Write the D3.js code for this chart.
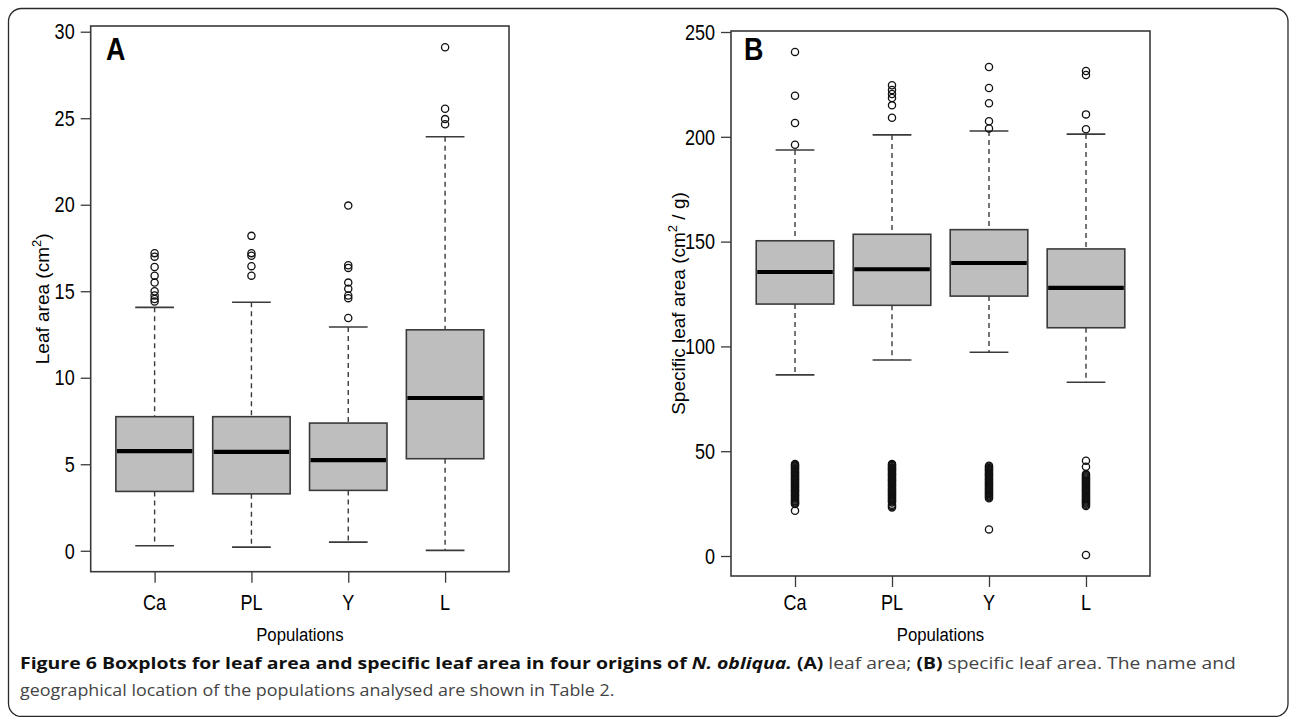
<!DOCTYPE html>
<html>
<head>
<meta charset="utf-8">
<script src="https://cdn.jsdelivr.net/npm/d3@7"></script>
<style>
html,body{margin:0;padding:0;background:#fff;}
svg{display:block;}
</style>
</head>
<body>
<svg id="chart" width="1290" height="717"></svg>
<script>
// ---------- DATA ----------
const categories = ["Ca", "PL", "Y", "L"];

// Panel A: leaf area (cm2)
const leafLowWhisker = [0.29, 0.21, 0.50, 0.02];
const leafQ1         = [3.43, 3.29, 3.49, 5.32];
const leafMedian     = [5.76, 5.72, 5.24, 8.83];
const leafQ3         = [7.75, 7.75, 7.38, 12.77];
const leafHighWhisker= [14.07, 14.36, 12.93, 23.93];
const leafOutliers = [
  [17.2, 17.0, 16.4, 15.9, 15.5, 15.0, 14.75, 14.55, 14.4],
  [18.2, 17.2, 17.05, 16.45, 15.9],
  [19.95, 16.5, 16.35, 15.5, 15.15, 14.75, 14.6, 13.45],
  [29.1, 25.55, 24.95, 24.65]
];
const leafTicks = [0, 5, 10, 15, 20, 25, 30];

// Panel B: specific leaf area (cm2/g)
const slaLowWhisker = [86.4, 93.5, 97.2, 82.9];
const slaQ1         = [120.2, 119.6, 124.0, 108.9];
const slaMedian     = [135.5, 136.8, 139.8, 127.9];
const slaQ3         = [150.4, 153.5, 155.7, 146.5];
const slaHighWhisker= [193.7, 200.9, 202.8, 201.3];
const slaOutliers = [
  [240.5, 219.6, 206.6, 196.2,
   43.9, 43.4, 43, 42.6, 42, 41.5, 41.1, 40.4, 40, 39.6, 39, 38.5, 38, 37.6, 37, 36.5, 36.1, 35.5, 35, 34.6, 34,
   33.5, 33, 32.6, 32, 31.5, 31, 30.6, 30, 29.5, 29, 28.6, 28, 27.5, 27, 26.4, 26, 25.5, 25, 24.8, 21.6],
  [224.6, 222.3, 220.4, 218.5, 215.0, 209.1,
   43.9, 43.5, 43, 42.4, 42, 41.5, 41, 40.5, 40, 39.4, 39, 38.5, 38, 37.5, 37, 36.4, 36, 35.5, 35, 34.5, 34,
   33.5, 33, 32.4, 32, 31.5, 31, 30.5, 30, 29.5, 29, 28.5, 28, 27.4, 27, 26.5, 26, 25.5, 24.5, 23.8, 23.2],
  [233.3, 223.3, 216.0, 207.4, 204.0,
   43.1, 42.6, 42, 41.5, 41, 40.5, 40, 39.4, 39, 38.5, 38, 37.5, 37, 36.5, 36, 35.4, 35, 34.5, 34, 33.5, 33,
   32.5, 32, 31.5, 31, 30.4, 30, 29.5, 29, 28.5, 28, 27.5, 12.7],
  [231.4, 229.5, 210.7, 203.6,
   45.5, 42.6, 39.1, 38.6, 38, 37.5, 37, 36.5, 36, 35.5, 35, 34.5, 34, 33.5, 33, 32.5, 32, 31.5, 31, 30.5, 30,
   29.5, 29, 28.5, 28, 27.5, 27, 26.5, 26, 25.5, 25, 24.5, 23.9, 0.5]
];
const slaTicks = [0, 50, 100, 150, 200, 250];

// ---------- DRAWING ----------
const svg = d3.select("#chart");
const FONT = "'Liberation Sans', Arial, Helvetica, sans-serif";
const SX = 0.84;          // horizontal compression of the figure lettering
const LINE = "#3a3a3a";

// outer rounded frame
svg.append("rect")
  .attr("x", 8.5).attr("y", 8.5).attr("width", 1279.5).attr("height", 708)
  .attr("rx", 13).attr("ry", 13)
  .attr("fill", "none").attr("stroke", "#2a2a2a").attr("stroke-width", 1.3);

function ctext(g, x, y, str, opts) {
  const t = g.append("text")
    .attr("transform", `translate(${x},${y}) scale(${opts.sx || SX},1)`)
    .attr("font-family", FONT)
    .attr("font-size", opts.size)
    .attr("font-weight", opts.weight || "normal")
    .attr("text-anchor", opts.anchor || "middle")
    .attr("fill", opts.fill || "#111");
  if (opts.dy) t.attr("dy", opts.dy);
  t.text(str);
  return t;
}

function panel(cfg) {
  const g = svg.append("g");
  const x = d3.scaleLinear().domain([0.34, 4.66]).range([cfg.left, cfg.right]);
  const y = d3.scaleLinear().domain(cfg.yDomain).range([cfg.bottom, cfg.top]);

  // plot frame
  g.append("rect")
    .attr("x", cfg.left).attr("y", cfg.top)
    .attr("width", cfg.right - cfg.left).attr("height", cfg.bottom - cfg.top)
    .attr("fill", "none").attr("stroke", LINE).attr("stroke-width", 1.6);

  // y axis (ticks + labels)
  const yAxis = d3.axisLeft(y).tickValues(cfg.ticks).tickSize(10).tickSizeOuter(0);
  const ya = g.append("g").attr("transform", `translate(${cfg.left},0)`).call(yAxis);
  ya.select(".domain").remove();
  ya.selectAll(".tick line").attr("stroke", LINE).attr("stroke-width", 1.3);
  ya.selectAll(".tick text").remove();
  cfg.ticks.forEach(v => {
    ctext(g, cfg.left - 16, y(v), String(v), {size: 21.5, anchor: "end", dy: "0.36em", fill: "#000"});
  });

  // x axis (ticks + labels)
  const xAxis = d3.axisBottom(x).tickValues([1, 2, 3, 4]).tickSize(11).tickSizeOuter(0);
  const xa = g.append("g").attr("transform", `translate(0,${cfg.bottom})`).call(xAxis);
  xa.select(".domain").remove();
  xa.selectAll(".tick line").attr("stroke", LINE).attr("stroke-width", 1.3);
  xa.selectAll(".tick text").remove();
  categories.forEach((c, i) => {
    ctext(g, x(i + 1), 610, c, {size: 21.5, fill: "#000"});
  });

  // boxes
  const d = categories.map((c, i) => ({
    i: i + 1, lo: cfg.lo[i], q1: cfg.q1[i], med: cfg.med[i], q3: cfg.q3[i], hi: cfg.hi[i], out: cfg.out[i]
  }));
  const bw = 0.4, cw = 0.2;
  const bx = g.selectAll("g.box").data(d).enter().append("g").attr("class", "box");
  // whiskers dashed
  bx.append("line")
    .attr("x1", e => x(e.i)).attr("x2", e => x(e.i))
    .attr("y1", e => y(e.hi)).attr("y2", e => y(e.q3))
    .attr("stroke", LINE).attr("stroke-width", 1.4).attr("stroke-dasharray", "5,4");
  bx.append("line")
    .attr("x1", e => x(e.i)).attr("x2", e => x(e.i))
    .attr("y1", e => y(e.q1)).attr("y2", e => y(e.lo))
    .attr("stroke", LINE).attr("stroke-width", 1.4).attr("stroke-dasharray", "5,4");
  // caps
  bx.append("line")
    .attr("x1", e => x(e.i - cw)).attr("x2", e => x(e.i + cw))
    .attr("y1", e => y(e.hi)).attr("y2", e => y(e.hi))
    .attr("stroke", LINE).attr("stroke-width", 1.6);
  bx.append("line")
    .attr("x1", e => x(e.i - cw)).attr("x2", e => x(e.i + cw))
    .attr("y1", e => y(e.lo)).attr("y2", e => y(e.lo))
    .attr("stroke", LINE).attr("stroke-width", 1.6);
  // box
  bx.append("rect")
    .attr("x", e => x(e.i - bw)).attr("width", e => x(e.i + bw) - x(e.i - bw))
    .attr("y", e => y(e.q3)).attr("height", e => y(e.q1) - y(e.q3))
    .attr("fill", "#bebebe").attr("stroke", LINE).attr("stroke-width", 1.6);
  // median
  bx.append("line")
    .attr("x1", e => x(e.i - bw) + 1).attr("x2", e => x(e.i + bw) - 1)
    .attr("y1", e => y(e.med)).attr("y2", e => y(e.med))
    .attr("stroke", "#000").attr("stroke-width", 4.2);
  // outliers
  bx.each(function(e) {
    d3.select(this).selectAll("circle").data(e.out).enter().append("circle")
      .attr("cx", x(e.i)).attr("cy", v => y(v)).attr("r", 3.6)
      .attr("fill", "none").attr("stroke", "#111").attr("stroke-width", 1.3);
  });

  // panel letter
  ctext(g, cfg.letterX, 60, cfg.letter, {size: 32, weight: "bold", anchor: "start", fill: "#000"});

  // x title
  ctext(g, (cfg.left + cfg.right) / 2, 641, "Populations", {size: 19, sx: 0.88, fill: "#000"});

  // y title (rotated)
  const ty = (cfg.top + cfg.bottom) / 2;
  const tt = g.append("text")
    .attr("transform", `translate(${cfg.titleX},${ty}) rotate(-90)`)
    .attr("font-family", FONT).attr("font-size", 19)
    .attr("text-anchor", "middle").attr("fill", "#000");
  cfg.title.forEach(p => {
    const s = tt.append("tspan").text(p.t);
    if (p.sup) s.attr("dy", -8).attr("font-size", 13);
    if (p.after) s.attr("dy", 8);
  });
}

panel({
  left: 90.7, right: 509, top: 26, bottom: 571.7,
  yDomain: [-1.21, 30.33], ticks: leafTicks,
  lo: leafLowWhisker, q1: leafQ1, med: leafMedian, q3: leafQ3, hi: leafHighWhisker, out: leafOutliers,
  letter: "A", letterX: 106, titleX: 49,
  title: [{t: "Leaf area (cm"}, {t: "2", sup: true}, {t: ")", after: true}]
});

panel({
  left: 731, right: 1150, top: 31, bottom: 576,
  yDomain: [-9.54, 250.48], ticks: slaTicks,
  lo: slaLowWhisker, q1: slaQ1, med: slaMedian, q3: slaQ3, hi: slaHighWhisker, out: slaOutliers,
  letter: "B", letterX: 744, titleX: 685,
  title: [{t: "Specific leaf area (cm"}, {t: "2", sup: true}, {t: " / g)", after: true}]
});

// ---------- CAPTION ----------
const CAP_FONT = "'Open Sans', 'Noto Sans', sans-serif";
// each segment is compressed to the span it covers in the figure
function captionSeg(x0, y, parts, targetWidth) {
  const t = svg.append("text")
    .attr("font-family", CAP_FONT).attr("font-size", 15.5)
    .attr("x", 0).attr("y", 0);
  parts.forEach(p => {
    const s = t.append("tspan").text(p.t)
      .attr("font-weight", p.b ? "bold" : "normal")
      .attr("fill", p.b ? "#111" : "#444");
    if (p.i) s.attr("font-style", "italic");
  });
  const w = t.node().getComputedTextLength();
  t.attr("transform", `translate(${x0},${y}) scale(${targetWidth / w},1)`);
}
captionSeg(20, 669, [
  {t: "Figure 6 Boxplots for leaf area and specific leaf area in four origins of ", b: true},
  {t: "N. obliqua.", b: true, i: true}
], 772);
captionSeg(797, 669, [
  {t: "(A)", b: true},
  {t: " leaf area; "},
  {t: "(B)", b: true},
  {t: " specific leaf area. The name and"}
], 439);
captionSeg(20, 696, [
  {t: "geographical location of the populations analysed are shown in Table 2."}
], 595);
</script>
</body>
</html>
